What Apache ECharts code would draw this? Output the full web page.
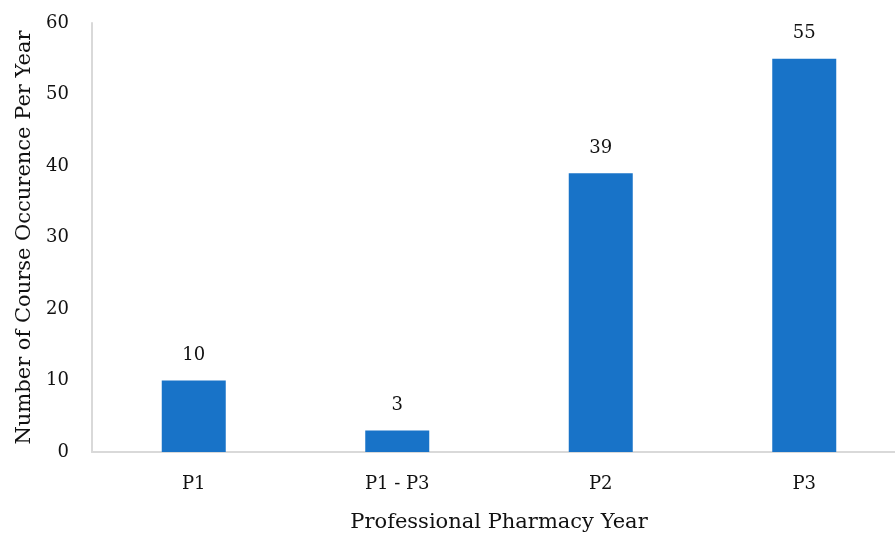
<!DOCTYPE html>
<html>
<head>
<meta charset="utf-8">
<script src="https://cdn.jsdelivr.net/npm/echarts@6/dist/echarts.min.js"></script>
<style>
  html, body { margin: 0; padding: 0; background: #fff; overflow: hidden; }
  /* the category axis runs a little past the right edge of the window */
  #chart { width: 906px; height: 533px; }
</style>
</head>
<body>
<div id="chart"></div>
<script>
// Course occurrence counts per professional pharmacy year
const categories = ['P1', 'P1 - P3', 'P2', 'P3'];
const occurrences = [10, 3, 39, 55];
const yTicks = { min: 0, max: 60, interval: 10 };

const FONT = '"DejaVu Serif", serif';
const chart = echarts.init(document.getElementById('chart'), null, { renderer: 'canvas' });

chart.setOption({
  animation: false,
  backgroundColor: '#ffffff',
  grid: {
    left: 92, right: 0, top: 23, bottom: 81,
    containLabel: false,
    outerBoundsMode: 'none'
  },
  xAxis: {
    type: 'category',
    data: categories,
    name: 'Professional Pharmacy Year',
    nameLocation: 'middle',
    nameGap: 60,
    nameTextStyle: { fontFamily: FONT, fontSize: 21, color: '#111' },
    axisLine: { show: true, lineStyle: { color: '#d9d9d9', width: 2 } },
    axisTick: { show: false },
    axisLabel: { fontFamily: FONT, fontSize: 18, color: '#111', margin: 23 }
  },
  yAxis: {
    type: 'value',
    min: yTicks.min,
    max: yTicks.max,
    interval: yTicks.interval,
    name: 'Number of Course Occurence Per Year',
    nameLocation: 'middle',
    nameGap: 56,
    nameTextStyle: { fontFamily: FONT, fontSize: 21, color: '#111' },
    axisLine: { show: true, lineStyle: { color: '#d9d9d9', width: 2 } },
    axisTick: { show: false },
    splitLine: { show: false },
    axisLabel: { fontFamily: FONT, fontSize: 18, color: '#111', margin: 23 }
  },
  series: [{
    type: 'bar',
    data: occurrences,
    barWidth: 64,
    itemStyle: { color: '#1873c8' },
    label: {
      show: true,
      position: 'top',
      distance: 16,
      fontFamily: FONT,
      fontSize: 18,
      color: '#111'
    }
  }]
});
</script>
</body>
</html>
